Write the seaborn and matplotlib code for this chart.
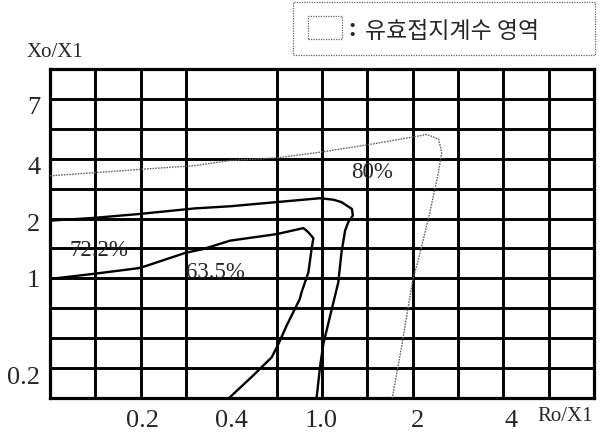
import matplotlib
matplotlib.use("Agg")
import matplotlib.pyplot as plt
import seaborn as sns
import pandas as pd
from matplotlib.patches import Rectangle

# ---- data (grid units: x column index 0..12, y row index 0..11) ----
x_tick_labels = ["0.2", "0.4", "1.0", "2", "4"]
x_tick_pos = [2.04, 4.0, 5.98, 8.1, 10.17]
y_tick_labels = ["0.2", "1", "2", "4", "7"]
y_tick_pos = [0.78, 4.04, 5.91, 7.80, 9.81]

curve80_x = [0.0, 0.955, 1.95, 3.20, 3.97, 5.00, 5.96, 6.99, 7.98, 8.31, 8.57, 8.64,
             8.57, 8.38, 8.13, 8.00, 7.87, 7.76, 7.55]
curve80_y = [7.43, 7.53, 7.64, 7.77, 7.94, 8.03, 8.22, 8.46, 8.72, 8.81, 8.66, 8.22,
             7.55, 6.21, 4.65, 3.92, 2.75, 1.75, 0.0]

curve722_x = [0.0, 0.955, 1.95, 3.20, 3.97, 5.00, 5.96, 6.25, 6.43, 6.66, 6.68, 6.58,
              6.51, 6.43, 6.36, 6.18, 6.03, 5.96, 5.88]
curve722_y = [5.93, 6.02, 6.15, 6.34, 6.41, 6.55, 6.68, 6.63, 6.55, 6.32, 6.10, 5.88,
              5.60, 4.87, 3.87, 2.75, 1.81, 1.08, 0.0]

curve635_x = [0.0, 0.955, 1.95, 2.09, 2.98, 3.38, 3.97, 5.00, 5.59, 5.70, 5.81, 5.77,
              5.70, 5.55, 5.51, 5.22, 5.04, 4.89, 4.48, 3.95]
curve635_y = [3.98, 4.15, 4.34, 4.40, 4.85, 4.98, 5.26, 5.48, 5.68, 5.54, 5.34, 4.98,
              4.20, 3.54, 3.31, 2.42, 1.81, 1.36, 0.75, 0.0]

region_labels = ["80%", "72.2%", "63.5%"]
region_label_pos = [(7.11, 7.58), (1.08, 4.98), (3.66, 4.23)]

x_axis_title = "Ro/X1"
y_axis_title = "Xo/X1"
legend_text = "유효접지계수 영역"

# ---- styling ----
sns.set_style("white")
plt.rcParams["font.family"] = ["Liberation Serif", "DejaVu Serif"]

fig = plt.figure(figsize=(6.02, 4.35), dpi=100)
ax = fig.add_axes([50 / 602, 36 / 435, 544 / 602, 329 / 435])

df80 = pd.DataFrame({"x": curve80_x, "y": curve80_y})
df722 = pd.DataFrame({"x": curve722_x, "y": curve722_y})
df635 = pd.DataFrame({"x": curve635_x, "y": curve635_y})

sns.lineplot(data=df80, x="x", y="y", sort=False, estimator=None, ax=ax,
             color="#666666", linewidth=1.0, linestyle=(0, (1.2, 0.8)), zorder=3)
sns.lineplot(data=df722, x="x", y="y", sort=False, estimator=None, ax=ax,
             color="black", linewidth=1.7, zorder=3)
sns.lineplot(data=df635, x="x", y="y", sort=False, estimator=None, ax=ax,
             color="black", linewidth=1.7, zorder=3)

ax.set_xlim(0, 12)
ax.set_ylim(0, 11)
ax.set_xlabel("")
ax.set_ylabel("")

# grid on minor ticks at integer positions
ax.set_xticks(range(13), minor=True)
ax.set_yticks(range(12), minor=True)
ax.grid(which="minor", color="black", linewidth=2.1)
ax.grid(which="major", visible=False)
ax.tick_params(which="minor", length=0)
ax.set_axisbelow(True)

ax.set_xticks(x_tick_pos)
ax.set_xticklabels(x_tick_labels, fontsize=19)
ax.set_yticks(y_tick_pos)
ax.set_yticklabels(y_tick_labels, fontsize=19)
ax.tick_params(axis="x", which="major", length=0, pad=8)
ax.tick_params(axis="y", which="major", length=0, pad=7)

for s in ax.spines.values():
    s.set_visible(True)
    s.set_color("black")
    s.set_linewidth(2.3)

for lab, (lx, ly) in zip(region_labels, region_label_pos):
    ax.text(lx, ly, lab, fontsize=16.5, ha="center", va="center", zorder=4)

ax.text(11.36, -0.57, x_axis_title, fontsize=15, ha="center", va="center", clip_on=False)
ax.text(0.11, 11.57, y_axis_title, fontsize=15, ha="center", va="center", clip_on=False)

# legend box
fig.patches.append(Rectangle((293 / 602, 1 - 56 / 435), 302 / 602, 53 / 435,
                             transform=fig.transFigure, fill=False,
                             edgecolor="#666666", linewidth=0.9, linestyle=(0, (1, 1))))
fig.patches.append(Rectangle((308 / 602, 1 - 40 / 435), 34 / 602, 23 / 435,
                             transform=fig.transFigure, fill=False,
                             edgecolor="#666666", linewidth=0.9, linestyle=(0, (1, 1))))
fig.text(352 / 602, 1 - 30 / 435, ":", fontsize=16, ha="center", va="center",
         family=["Noto Sans CJK KR", "DejaVu Sans"], fontweight="bold")
fig.text(365 / 602, 1 - 31.5 / 435, legend_text, fontsize=16.5, ha="left", va="center",
         family=["Noto Sans CJK KR", "DejaVu Sans"], fontweight="medium")

fig.savefig("out.png", dpi=100)
